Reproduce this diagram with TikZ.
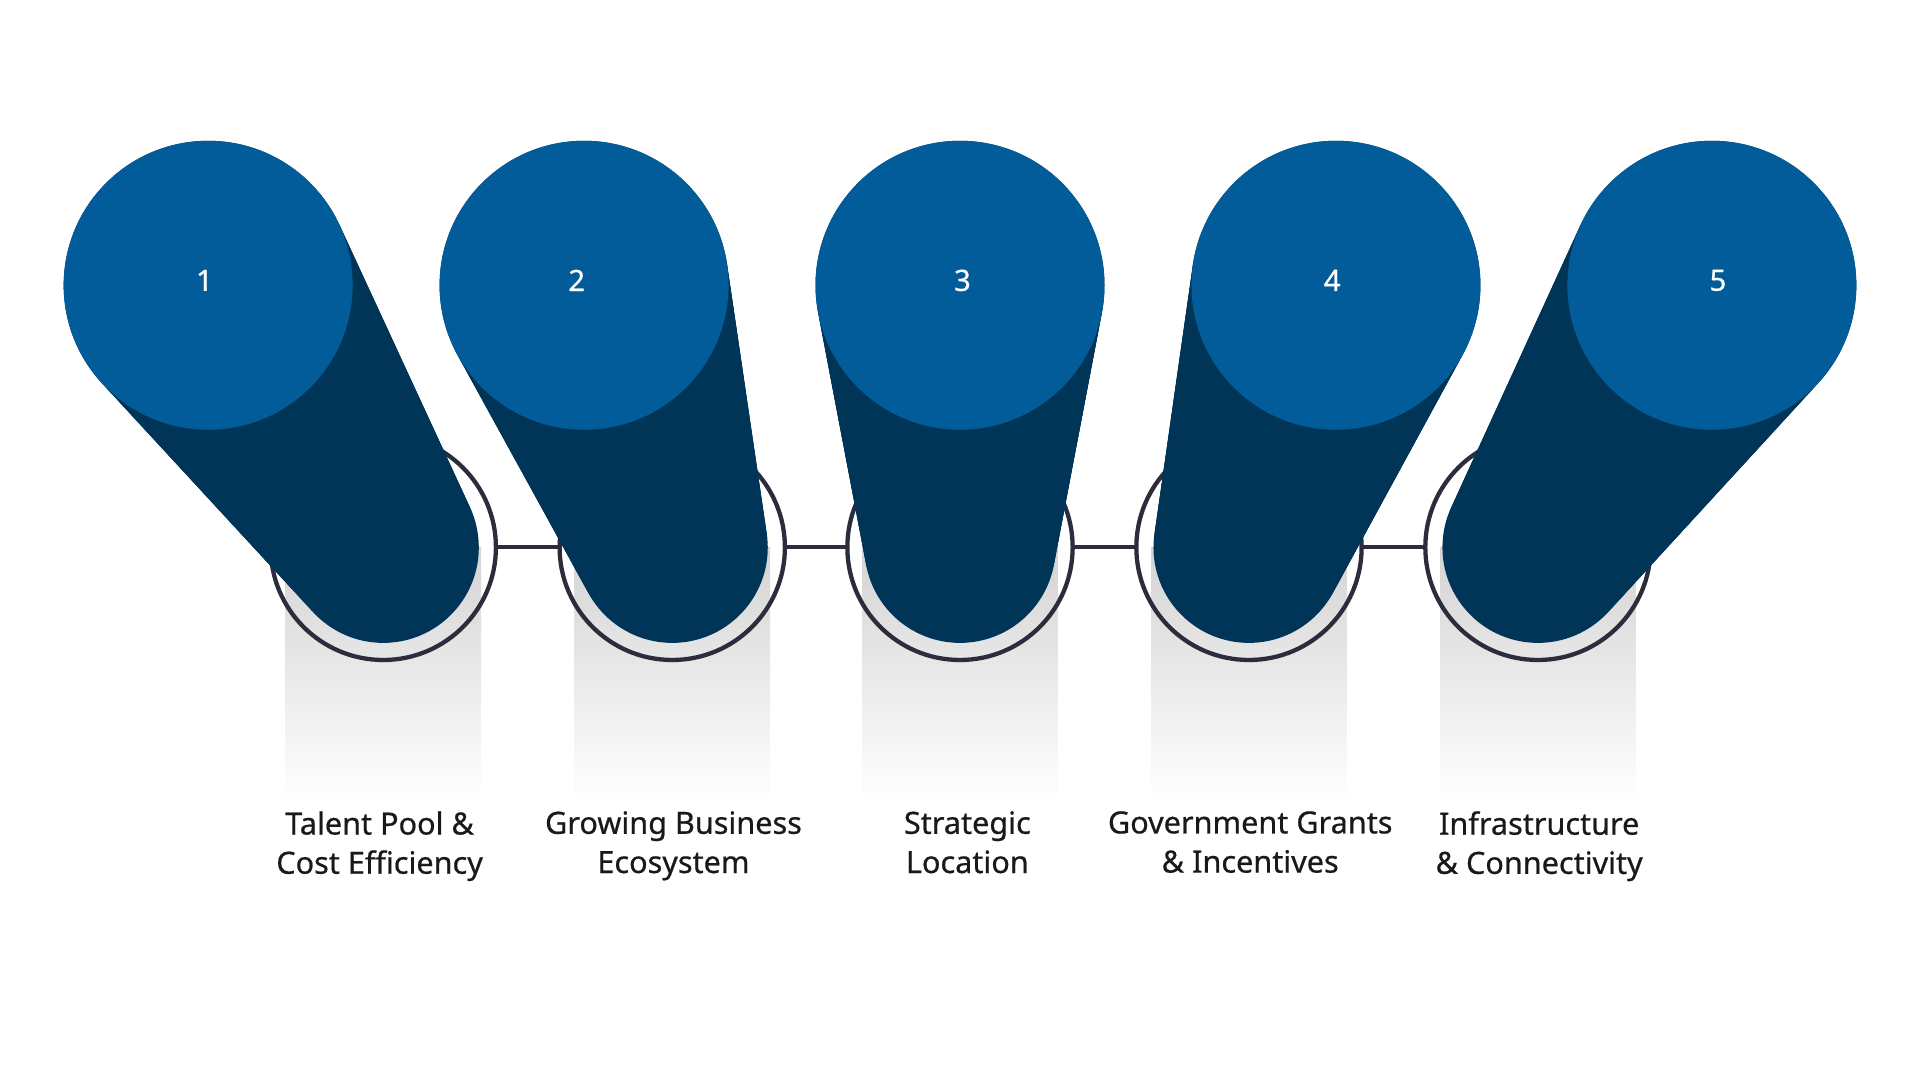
\documentclass[tikz,border=0pt]{standalone}
\usepackage{fontspec}
\setmainfont{Noto Sans}[FakeBold=0.6]
\definecolor{topblue}{HTML}{025C99}
\definecolor{darkblue}{HTML}{003557}
\definecolor{ringc}{HTML}{2B2D3C}
\begin{document}
\begin{tikzpicture}[x=1pt,y=1pt,
  lbl/.style={font=\fontsize{25}{32}\selectfont\bfseries,text=black!90,align=center,anchor=north},
  num/.style={font=\fontsize{24}{28}\selectfont,text=white},
  ringst/.style={draw=ringc,line width=3.5pt}]
\useasboundingbox (0,0) rectangle (1568,882);
% gray shadows
\foreach \b in {313,549,784,1020,1256}{
  \shade[top color=black!17,bottom color=white] (\b-80,227) rectangle (\b+80,435);
}
\foreach \b [count=\i] in {313,549,784,1020,1256}{
  \coordinate (b\i) at (\b,435);
}
\foreach \i/\j in {1/2,2/3,3/4,4/5}{
  \draw[ringc,line width=3.5pt] ([xshift=92pt]b\i) -- ([xshift=-92pt]b\j);
}
\foreach \i in {1,...,5}{
  \draw[ringst] (b\i) circle[radius=92];
}
% capsules
\foreach \a/\b/\nx [count=\i] in {170/313/167,477/549/471,784/784/786,1091/1020/1088,1398/1256/1403}{
  \foreach \t in {0,0.02,...,1.001}{
    \fill[darkblue] ({\a+(\b-\a)*\t},{649-214*\t}) circle[radius={118-40*\t}];
  }
  \fill[topblue] (\a,649) circle[radius=118];
  \node[num] (n\i) at (\nx,653) {\i};
}
\node[lbl] (l1) at (310,223) {Talent Pool \&\\Cost Efficiency};
\node[lbl] (l2) at (550,223) {Growing Business\\Ecosystem};
\node[lbl] (l3) at (790,223) {Strategic\\Location};
\node[lbl] (l4) at (1021,223) {Government Grants\\\& Incentives};
\node[lbl] (l5) at (1257,223) {Infrastructure\\\& Connectivity};
\end{tikzpicture}
\end{document}
